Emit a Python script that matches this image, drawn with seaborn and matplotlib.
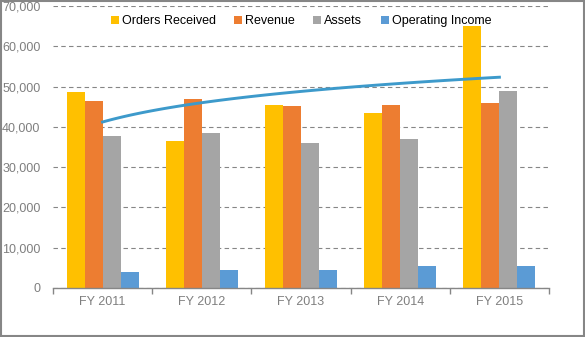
import matplotlib
matplotlib.use("Agg")
import matplotlib.pyplot as plt
from matplotlib.lines import Line2D
from matplotlib.patches import Rectangle
import seaborn as sns
import pandas as pd
import numpy as np

years = ["FY 2011", "FY 2012", "FY 2013", "FY 2014", "FY 2015"]
orders_received = [48700, 36500, 45400, 43500, 65000]
revenue = [46400, 46900, 45200, 45400, 45900]
assets = [37800, 38500, 36000, 37000, 48900]
operating_income = [4000, 4500, 4500, 5500, 5500]
series_names = ["Orders Received", "Revenue", "Assets", "Operating Income"]
series_colors = ["#FFC000", "#ED7D31", "#A5A5A5", "#5B9BD5"]
trend_color = "#3D9ACB"
y_ticks = list(range(0, 70001, 10000))

plt.rcParams["font.family"] = ["Liberation Sans", "DejaVu Sans"]

rows = []
for name, vals in zip(series_names, [orders_received, revenue, assets, operating_income]):
    for yr, v in zip(years, vals):
        rows.append({"Year": yr, "Series": name, "Value": v})
df = pd.DataFrame(rows)

fig = plt.figure(figsize=(5.85, 3.37), dpi=100)
ax = fig.add_axes([53 / 585, 49 / 337, 496 / 585, 282 / 337])

sns.barplot(data=df, x="Year", y="Value", hue="Series", hue_order=series_names,
            order=years, palette=series_colors, width=0.727, saturation=1,
            linewidth=0, legend=False, ax=ax)

ax.set_xlim(-0.5, len(years) - 0.5)
ax.set_ylim(0, 70000)
ax.set_yticks(y_ticks)
ax.set_yticklabels([f"{t:,}" for t in y_ticks])
ax.set_xlabel("")
ax.set_ylabel("")
ax.set_axisbelow(True)
ax.yaxis.grid(True, linestyle=(0, (4, 3)), color="#868686", linewidth=0.8)
ax.xaxis.grid(False)
for s in ["left", "top", "right"]:
    ax.spines[s].set_visible(False)
ax.spines["bottom"].set_color("#868686")
ax.spines["bottom"].set_linewidth(1.0)
ax.tick_params(axis="y", length=0, pad=9, labelsize=9, labelcolor="#7F7F7F")
ax.tick_params(axis="x", which="major", length=0, pad=6, labelsize=9, labelcolor="#7F7F7F")
ax.set_xticks(np.arange(-0.5, len(years) + 0.5, 1.0), minor=True)
ax.tick_params(axis="x", which="minor", length=4.5, color="#868686", width=1.0)

# logarithmic trendline of Orders Received
ax2 = ax.twiny()
sns.regplot(x=np.arange(1, len(years) + 1), y=np.array(orders_received, dtype=float),
            logx=True, scatter=False, ci=None, truncate=True,
            line_kws=dict(color=trend_color, linewidth=2.1), ax=ax2)
ax2.set_xlim(0.5, len(years) + 0.5)
ax2.set_ylim(0, 70000)
ax2.set_xticks([])
ax2.set_xlabel("")
ax2.set_ylabel("")
for s in ax2.spines.values():
    s.set_visible(False)

handles = [Line2D([0], [0], marker="s", linestyle="none", markersize=5.2,
                  markerfacecolor=c, markeredgewidth=0) for c in series_colors]
ax.legend(handles, series_names, loc="center", bbox_to_anchor=(0.5, 0.947), ncol=4,
          frameon=False, fontsize=9, handlelength=0.6, handletextpad=0.25,
          columnspacing=1.5, borderaxespad=0)

fig.patches.append(Rectangle((0.001, 0.002), 0.997, 0.996, transform=fig.transFigure,
                             fill=False, edgecolor="#868686", linewidth=1.5))

fig.savefig("out.png", dpi=100)
